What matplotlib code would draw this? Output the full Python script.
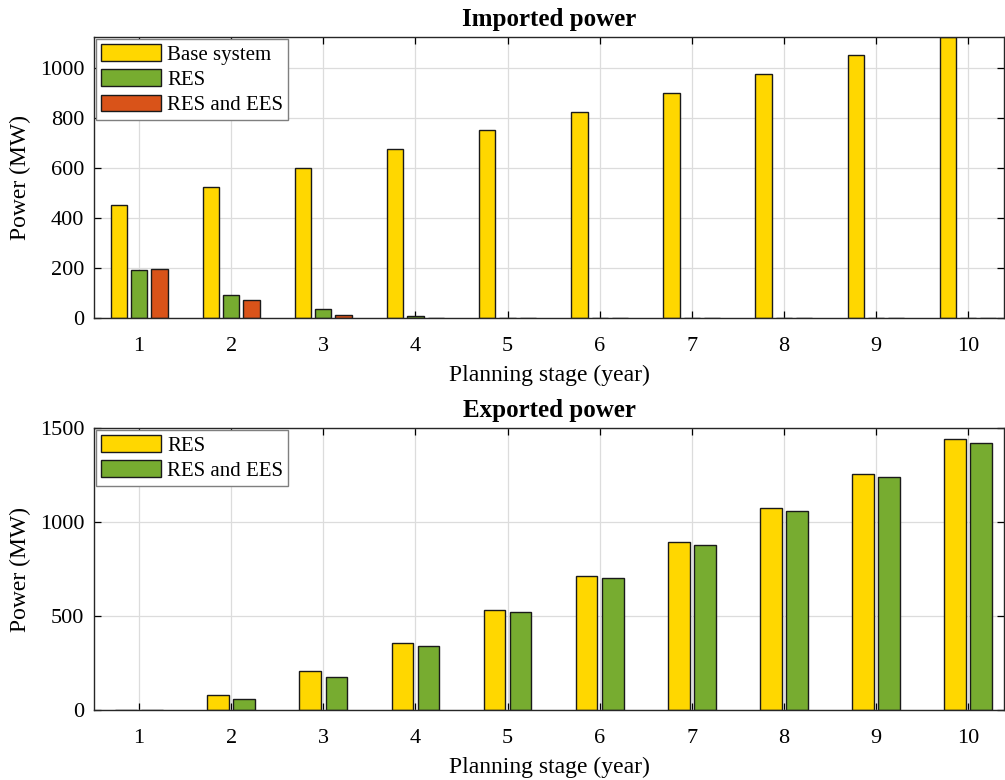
import numpy as np
import matplotlib.pyplot as plt

plt.rcParams['font.family'] = ['Liberation Serif', 'DejaVu Serif']

# planning stages
stages = np.arange(1, 11)

# imported power (MW)
imp_base = [451, 525, 600, 676, 751, 825, 900, 976, 1051, 1125]
imp_res = [193, 92, 37, 8, 1, 1, 1, 1, 1, 1]
imp_res_ees = [196, 72, 11, 2, 0.5, 0.5, 0.5, 0.5, 0.5, 0.5]

# exported power (MW)
exp_res = [2, 80, 207, 357, 530, 712, 893, 1075, 1257, 1439]
exp_res_ees = [1, 58, 176, 341, 520, 700, 879, 1059, 1237, 1418]

c_yellow = '#FFD700'
c_green = '#77AC30'
c_red = '#D95319'

fig = plt.figure(figsize=(10.05, 7.8), dpi=100)
W, H = 1005, 780
ax1 = fig.add_axes([94 / W, 1 - 318 / H, (1004 - 94) / W, (318 - 37) / H])
ax2 = fig.add_axes([94 / W, 1 - 710 / H, (1004 - 94) / W, (710 - 428) / H])


def style_axes(ax):
    ax.set_xlim(0.51, 10.39)
    ax.set_xticks(stages)
    ax.grid(True, color='#dcdcdc', linewidth=0.9)
    ax.set_axisbelow(True)
    ax.tick_params(direction='in', top=True, right=True, labelsize=16,
                   length=5, width=0.9)
    ax.tick_params(axis='x', pad=14)
    ax.tick_params(axis='y', pad=7)
    for s in ax.spines.values():
        s.set_linewidth(1.0)
        s.set_color('#262626')
    ax.set_xlabel('Planning stage (year)', fontsize=17, labelpad=6)
    ax.set_ylabel('Power (MW)', fontsize=17, labelpad=6)


bar_kw = dict(edgecolor='#1a1a1a', linewidth=1.0)

# imported power
w1 = 0.177
off1 = 0.22
ax1.bar(stages - off1, imp_base, w1, color=c_yellow, label='Base system', **bar_kw)
ax1.bar(stages, imp_res, w1, color=c_green, label='RES', **bar_kw)
ax1.bar(stages + off1, imp_res_ees, w1, color=c_red, label='RES and EES', **bar_kw)
ax1.set_ylim(0, 1125)
ax1.set_yticks([0, 200, 400, 600, 800, 1000])
style_axes(ax1)
ax1.set_title('Imported power', fontsize=18, fontweight='bold', pad=8)

# exported power
w2 = 0.235
off2 = 0.142
ax2.bar(stages - off2, exp_res, w2, color=c_yellow, label='RES', **bar_kw)
ax2.bar(stages + off2, exp_res_ees, w2, color=c_green, label='RES and EES', **bar_kw)
ax2.set_ylim(0, 1500)
ax2.set_yticks([0, 500, 1000, 1500])
style_axes(ax2)
ax2.set_title('Exported power', fontsize=18, fontweight='bold', pad=8)

for ax in (ax1, ax2):
    leg = ax.legend(loc='upper left', fontsize=15, fancybox=False,
                    handlelength=2.85, handleheight=0.85, handletextpad=0.3,
                    borderaxespad=0.1, borderpad=0.25, labelspacing=0.22,
                    edgecolor='#7f7f7f', framealpha=1)
    leg.get_frame().set_linewidth(1.0)

fig.savefig('out.png', dpi=100)
